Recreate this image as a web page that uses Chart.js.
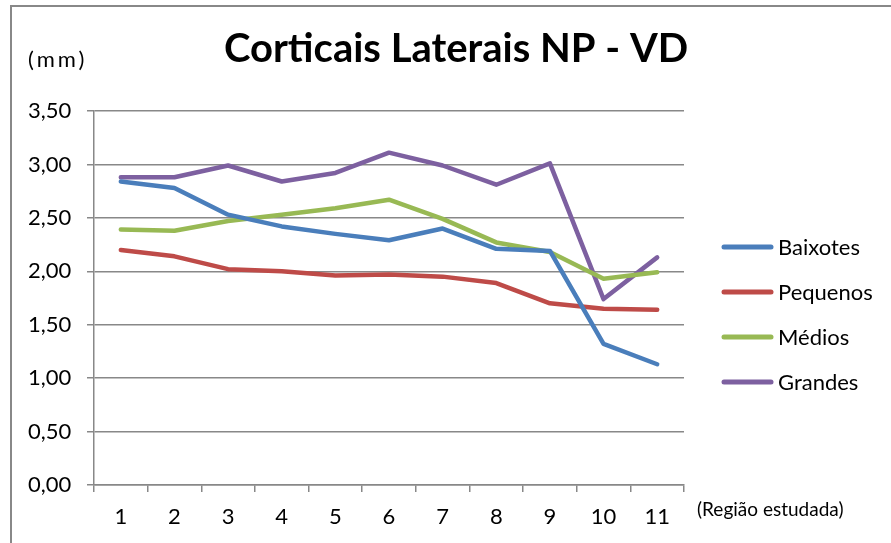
<!DOCTYPE html>
<html lang="pt">
<head>
    <meta charset="UTF-8">
    <title>Corticais Laterais NP - VD</title>
    <script src="https://cdn.jsdelivr.net/npm/chart.js"></script>
    <style>
        body {
            margin: 0;
            background-color: #ffffff;
        }

        .chart-container {
            width: 891px;
            height: 543px;
        }
    </style>
</head>
<body>

    <div class="chart-container">
        <canvas id="corticaisChart" width="891" height="543"></canvas>
    </div>

    <script>
        // Regiões estudadas (eixo x)
        const regioes = ['1', '2', '3', '4', '5', '6', '7', '8', '9', '10', '11'];

        // Valores (mm) por grupo
        const baixotes = [2.84, 2.78, 2.53, 2.42, 2.35, 2.29, 2.40, 2.21, 2.19, 1.32, 1.13];
        const pequenos = [2.20, 2.14, 2.02, 2.00, 1.96, 1.97, 1.95, 1.89, 1.70, 1.65, 1.64];
        const medios   = [2.39, 2.38, 2.47, 2.53, 2.59, 2.67, 2.49, 2.27, 2.18, 1.93, 1.99];
        const grandes  = [2.88, 2.88, 2.99, 2.84, 2.92, 3.11, 2.99, 2.81, 3.01, 1.74, 2.13];

        const grupos = ['Baixotes', 'Pequenos', 'Médios', 'Grandes'];
        const cores = ['#4a7ebb', '#be4b48', '#98b954', '#7d60a0'];
        const series = [baixotes, pequenos, medios, grandes];

        const corGrade = '#888888';
        const fonte = 'Lato, "Open Sans", sans-serif';

        // Título, rótulos dos eixos, legenda e moldura
        const decoracao = {
            id: 'decoracao',
            beforeDraw(chart) {
                const c = chart.ctx;
                c.save();
                c.fillStyle = '#ffffff';
                c.fillRect(0, 0, chart.width, chart.height);
                c.strokeStyle = corGrade;
                c.lineWidth = 2;
                c.strokeRect(11, 6, chart.width + 20, chart.height + 20);
                c.restore();
            },
            afterDraw(chart) {
                const c = chart.ctx;
                c.save();
                c.fillStyle = '#000000';
                c.textBaseline = 'middle';

                c.font = 'bold 40px ' + fonte;
                c.textAlign = 'center';
                c.fillText('Corticais Laterais NP - VD', 456, 49);

                c.textAlign = 'left';
                c.font = '22px ' + fonte;
                c.letterSpacing = '3px';
                c.fillText('(mm)', 28, 60);
                c.letterSpacing = '0px';

                c.font = '19px ' + fonte;
                c.fillText('(Região estudada)', 697, 510);

                // legenda
                c.font = '22px ' + fonte;
                chart.data.datasets.forEach((ds, i) => {
                    const y = 247 + 45 * i;
                    c.strokeStyle = ds.borderColor;
                    c.lineWidth = 5;
                    c.lineCap = 'round';
                    c.beginPath();
                    c.moveTo(724, y);
                    c.lineTo(771, y);
                    c.stroke();
                    c.fillText(ds.label, 778, y + 1);
                });
                c.restore();
            }
        };

        const ctx = document.getElementById('corticaisChart').getContext('2d');

        const corticaisChart = new Chart(ctx, {
            type: 'line',
            data: {
                labels: regioes,
                datasets: series.map((valores, i) => ({
                    label: grupos[i],
                    data: valores,
                    borderColor: cores[i],
                    backgroundColor: cores[i],
                    borderWidth: 4.5,
                    pointRadius: 0,
                    tension: 0,
                    borderJoinStyle: 'round',
                    borderCapStyle: 'round'
                }))
            },
            options: {
                responsive: false,
                animation: false,
                layout: {
                    padding: { top: 111, right: 207, bottom: 0, left: 28 }
                },
                plugins: {
                    legend: { display: false },
                    title: { display: false },
                    tooltip: { enabled: false }
                },
                scales: {
                    x: {
                        offset: true,
                        afterFit(scale) { scale.height = 58; },
                        grid: {
                            offset: true,
                            drawOnChartArea: false,
                            drawTicks: true,
                            tickLength: 7,
                            color: corGrade,
                            lineWidth: 1.5
                        },
                        border: { color: corGrade, width: 1.5 },
                        ticks: {
                            color: '#000000',
                            padding: 12,
                            maxRotation: 0,
                            font: { family: fonte, size: 22 }
                        }
                    },
                    y: {
                        min: 0,
                        max: 3.5,
                        afterFit(scale) { scale.width = 66; },
                        grid: {
                            color: corGrade,
                            lineWidth: 1.5,
                            tickLength: 7
                        },
                        border: { color: corGrade, width: 1.5 },
                        ticks: {
                            stepSize: 0.5,
                            color: '#000000',
                            crossAlign: 'far',
                            font: { family: fonte, size: 22 },
                            callback: (v) => v.toFixed(2).replace('.', ',')
                        }
                    }
                }
            },
            plugins: [decoracao]
        });
    </script>

</body>
</html>
